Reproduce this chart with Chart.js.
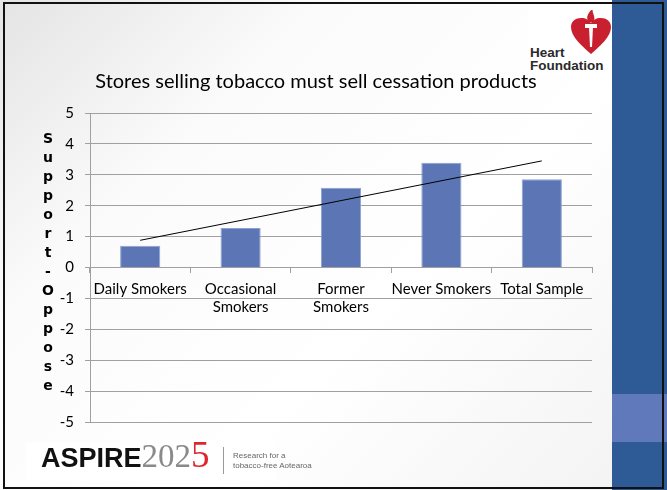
<!DOCTYPE html>
<html>
<head>
<meta charset="utf-8">
<script src="https://cdn.jsdelivr.net/npm/chart.js@4"></script>
<style>
    body { margin: 0; background: #fff; }
    #slide {
        position: relative;
        width: 667px;
        height: 490px;
        overflow: hidden;
        background: linear-gradient(135deg, #e4e4e4 0%, #fbfbfb 28%, #ffffff 60%, #f2f2f2 100%);
    }
    #frame {
        position: absolute;
        left: 3px; top: 2px; width: 657px; height: 483px;
        border: 2px solid #111;
        z-index: 5;
    }
    #stripe {
        position: absolute;
        left: 612px; top: 0; width: 55px; height: 490px;
        background: #2e5a95;
    }
    #stripe2 {
        position: absolute;
        left: 612px; top: 394px; width: 55px; height: 48px;
        background: #5f79ba;
    }
    #chart { position: absolute; left: 0; top: 0; z-index: 2; }
    #heart {
        position: absolute;
        left: 528px; top: 10px; width: 84px; height: 65px;
        background: #fff;
        z-index: 3;
    }
    #heart .txt {
        position: absolute;
        left: 2px; top: 36px;
        font: bold 13.5px "Liberation Sans", Arial, sans-serif;
        line-height: 13px;
        color: #2a2a2a;
        white-space: nowrap;
    }
    #aspire {
        position: absolute;
        left: 26px; top: 443px; width: 250px; height: 37px;
        background: #fff;
        z-index: 3;
    }
    #aspire .name {
        position: absolute;
        left: 15px; top: -2px;
        font: bold 27px "Liberation Sans", Arial, sans-serif;
        line-height: 27px;
        color: #111;
        white-space: nowrap;
    }
    #aspire .year {
        font: 33px "Liberation Serif", serif;
        line-height: 27px;
        color: #8a8a8a;
    }
    #aspire .five { color: #e0242b; font-size: 37px; }
    #aspire .sep {
        position: absolute;
        left: 197px; top: 4px; width: 1px; height: 27px;
        background: #999;
    }
    #aspire .small {
        position: absolute;
        left: 207px; top: 8px;
        font: 8px "Liberation Sans", Arial, sans-serif;
        line-height: 10px;
        color: #666;
        white-space: nowrap;
    }
</style>
</head>
<body>
<div id="slide">
    <div id="stripe"></div>
    <div id="stripe2"></div>
    <canvas id="chart" width="667" height="490"></canvas>
    <div id="heart">
        <svg width="84" height="65" style="position:absolute;left:0;top:0">
            <path d="M63 44 C54 36 43 27 43 17 C43 11 48 8 53 8 C58 8 61 10 63 13 C65 10 68 8 73 8 C78 8 83 11 83 17 C83 27 72 36 63 44 Z" fill="#c8202f"/>
            <path d="M61 17 L65 17 L64 37 L62 37 Z" fill="#fff"/>
            <rect x="57" y="14" width="12" height="4" fill="#fff"/>
            <path d="M61 12 C57 8 60 3 65 -2 C63 4 69 6 65 12 Z" fill="#c8202f"/>
        </svg>
        <div class="txt">Heart<br>Foundation</div>
    </div>
    <div id="aspire">
        <div class="name">ASPIRE<span class="year">202<span class="five">5</span></span></div>
        <div class="sep"></div>
        <div class="small">Research for a<br>tobacco-free Aotearoa</div>
    </div>
    <div id="frame"></div>
</div>

<script>
/* 데이터 */
var categories = ["Daily Smokers", ["Occasional", "Smokers"], ["Former", "Smokers"], "Never Smokers", "Total Sample"];
var scores = [0.70, 1.28, 2.58, 3.39, 2.86];
// trend line: start (first category) and end (last category)
var trend = [0.88, null, null, null, 3.45];
var yTicks = [-5, -4, -3, -2, -1, 0, 1, 2, 3, 4, 5];

var yTitle = "Support-Oppose";

/* 세로 글자 y축 제목 */
const yTitlePlugin = {
    id: 'yTitle',
    afterDraw: function(chart) {
        const ctx = chart.ctx;
        const area = chart.chartArea;
        const letters = yTitle.split("");
        const step = 19;
        const mid = (area.top + area.bottom) / 2 - 5;
        const start = mid - step * (letters.length - 1) / 2;
        ctx.save();
        ctx.font = "bold 14px 'DejaVu Sans', sans-serif";
        ctx.fillStyle = "#000";
        ctx.textAlign = "center";
        ctx.textBaseline = "middle";
        for (let i = 0; i < letters.length; i++) {
            ctx.fillText(letters[i], 48, start + i * step);
        }
        ctx.restore();
    }
};

var ctx = document.getElementById("chart").getContext("2d");
window.theChart = new Chart(ctx, {
    data: {
        labels: categories,
        datasets: [{
            type: 'bar',
            label: 'Score',
            data: scores,
            backgroundColor: "#5b75b5",
            borderColor: "#8ea1d2",
            borderWidth: 1,
            barPercentage: 0.4,
            categoryPercentage: 1.0,
            order: 2
        }, {
            type: 'line',
            label: 'Trend',
            data: trend,
            spanGaps: true,
            borderColor: "#000",
            borderWidth: 1,
            pointRadius: 0,
            fill: false,
            order: 1
        }]
    },
    options: {
        responsive: false,
        animation: false,
        layout: {
            padding: { left: 40, right: 75, top: 0, bottom: 68 }
        },
        plugins: {
            legend: { display: false },
            tooltip: { enabled: false },
            title: {
                display: true,
                text: "Stores selling tobacco must sell cessation products",
                color: "#000",
                font: { family: "Lato", size: 20, weight: "normal" },
                padding: { top: 70, bottom: 19 }
            }
        },
        scales: {
            x: {
                position: { y: 0 },
                grid: {
                    offset: true,
                    drawOnChartArea: false,
                    drawTicks: true,
                    tickLength: 5,
                    color: "#a0a0a0"
                },
                border: { display: true, color: "#a0a0a0" },
                ticks: {
                    color: "#000",
                    font: { family: "Lato", size: 15 },
                    padding: 8,
                    maxRotation: 0,
                    autoSkip: false
                }
            },
            y: {
                min: -5,
                max: 5,
                afterBuildTicks: function(scale) {
                    scale.ticks = yTicks.map(function(v) { return { value: v }; });
                },
                afterFit: function(scale) {
                    scale.width = 50;
                },
                grid: {
                    color: "#a0a0a0",
                    tickLength: 5
                },
                border: { display: true, color: "#a0a0a0" },
                ticks: {
                    color: "#000",
                    font: { family: "Lato", size: 15 },
                    padding: 11
                }
            }
        }
    },
    plugins: [yTitlePlugin]
});
</script>
</body>
</html>
